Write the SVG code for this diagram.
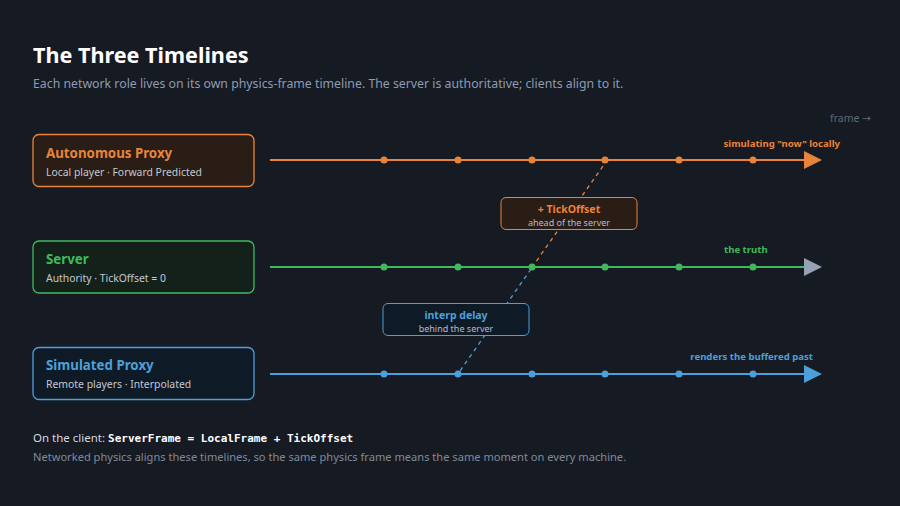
<svg xmlns="http://www.w3.org/2000/svg" width="900" height="506" viewBox="0 0 900 506">
<style>
text{font-family:"Noto Sans","Open Sans","Liberation Sans",sans-serif}
.title{font-size:21.6px;font-weight:700;fill:#ffffff}
.sub{font-size:12.3px;fill:#8d9bb0}
.nt{font-size:13.3px;font-weight:700}
.ns{font-size:10.4px;fill:#c3c9d2}
.lbl{font-size:9.6px;font-weight:700}
.bt{font-size:10.5px;font-weight:700}
.bs{font-size:9px;fill:#b5bcc6}
.o{fill:#e8843a}.g{fill:#40b95e}.b{fill:#4ba0da}
.lo{stroke:#e8843a}.lg{stroke:#40b95e}.lb{stroke:#4ba0da}
.tl{stroke-width:2}
.dash{stroke-width:1.3;stroke-dasharray:4 4;fill:none}
</style>
<rect width="900" height="506" fill="#161a23"/>
<text class="title" x="33" y="63">The Three Timelines</text>
<text class="sub" x="33" y="88">Each network role lives on its own physics-frame timeline. The server is authoritative; clients align to it.</text>
<text x="871" y="122" text-anchor="end" style="font-size:10.5px;fill:#5e6878">frame <tspan style="font-family:'DejaVu Sans',sans-serif">→</tspan></text>

<g id="connectors">
<line class="dash lo" x1="603" y1="166" x2="533" y2="266"/>
<line class="dash lb" x1="531" y1="269" x2="460" y2="371"/>
</g>

<g id="timeline-autonomous">
<line class="tl lo" x1="270" y1="160" x2="806" y2="160"/>
<polygon class="o" points="804,151 822,160 804,169"/>
<g class="o"><circle cx="384" cy="160" r="3.5"/><circle cx="458" cy="160" r="3.5"/><circle cx="532" cy="160" r="3.5"/><circle cx="605" cy="160" r="3.5"/><circle cx="679" cy="160" r="3.5"/><circle cx="753" cy="160" r="3.5"/></g>
<text class="lbl o" x="840" y="147" text-anchor="end">simulating "now" locally</text>
</g>
<g id="timeline-server">
<line class="tl lg" x1="270" y1="267" x2="806" y2="267"/>
<polygon fill="#95a1b4" points="804,258 822,267 804,276"/>
<g class="g"><circle cx="384" cy="267" r="3.5"/><circle cx="458" cy="267" r="3.5"/><circle cx="532" cy="267" r="3.5"/><circle cx="605" cy="267" r="3.5"/><circle cx="679" cy="267" r="3.5"/><circle cx="753" cy="267" r="3.5"/></g>
<text class="lbl g" x="724" y="253">the truth</text>
</g>
<g id="timeline-simulated">
<line class="tl lb" x1="270" y1="374" x2="806" y2="374"/>
<polygon class="b" points="804,365 822,374 804,383"/>
<g class="b"><circle cx="384" cy="374" r="3.5"/><circle cx="458" cy="374" r="3.5"/><circle cx="532" cy="374" r="3.5"/><circle cx="605" cy="374" r="3.5"/><circle cx="679" cy="374" r="3.5"/><circle cx="753" cy="374" r="3.5"/></g>
<text class="lbl b" x="813" y="360" text-anchor="end">renders the buffered past</text>
</g>

<g id="node-autonomous">
<rect x="33" y="134.5" width="221" height="52" rx="6" fill="#2a1d15" stroke="#e8843a" stroke-width="1.3"/>
<text class="nt o" x="46" y="158">Autonomous Proxy</text>
<text class="ns" x="46" y="176">Local player · Forward Predicted</text>
</g>
<g id="node-server">
<rect x="33" y="241" width="221" height="52" rx="6" fill="#14211a" stroke="#40b95e" stroke-width="1.3"/>
<text class="nt g" x="46" y="264">Server</text>
<text class="ns" x="46" y="282">Authority · TickOffset = 0</text>
</g>
<g id="node-simulated">
<rect x="33" y="347.5" width="221" height="52" rx="6" fill="#0f1a27" stroke="#4ba0da" stroke-width="1.3"/>
<text class="nt b" x="46" y="370">Simulated Proxy</text>
<text class="ns" x="46" y="388">Remote players · Interpolated</text>
</g>

<g id="label-tickoffset">
<rect x="501" y="197.5" width="136" height="32" rx="5" fill="#2a1d15" stroke="#e8843a" stroke-width="1"/>
<text class="bt o" x="569" y="213" text-anchor="middle">+ TickOffset</text>
<text class="bs" x="569" y="226" text-anchor="middle">ahead of the server</text>
</g>
<g id="label-interp">
<rect x="383" y="303.5" width="146" height="32" rx="5" fill="#0f1a27" stroke="#4ba0da" stroke-width="1"/>
<text class="bt b" x="456" y="319" text-anchor="middle">interp delay</text>
<text class="bs" x="456" y="332" text-anchor="middle">behind the server</text>
</g>

<text x="33" y="442" style="font-size:11.5px;fill:#d2d8e0">On the client: <tspan style="font-family:'DejaVu Sans Mono','Liberation Mono',monospace;font-weight:700;font-size:11px;fill:#ffffff">ServerFrame = LocalFrame + TickOffset</tspan></text>
<text x="33" y="461" style="font-size:11.1px;fill:#7f8a99">Networked physics aligns these timelines, so the same physics frame means the same moment on every machine.</text>
</svg>
